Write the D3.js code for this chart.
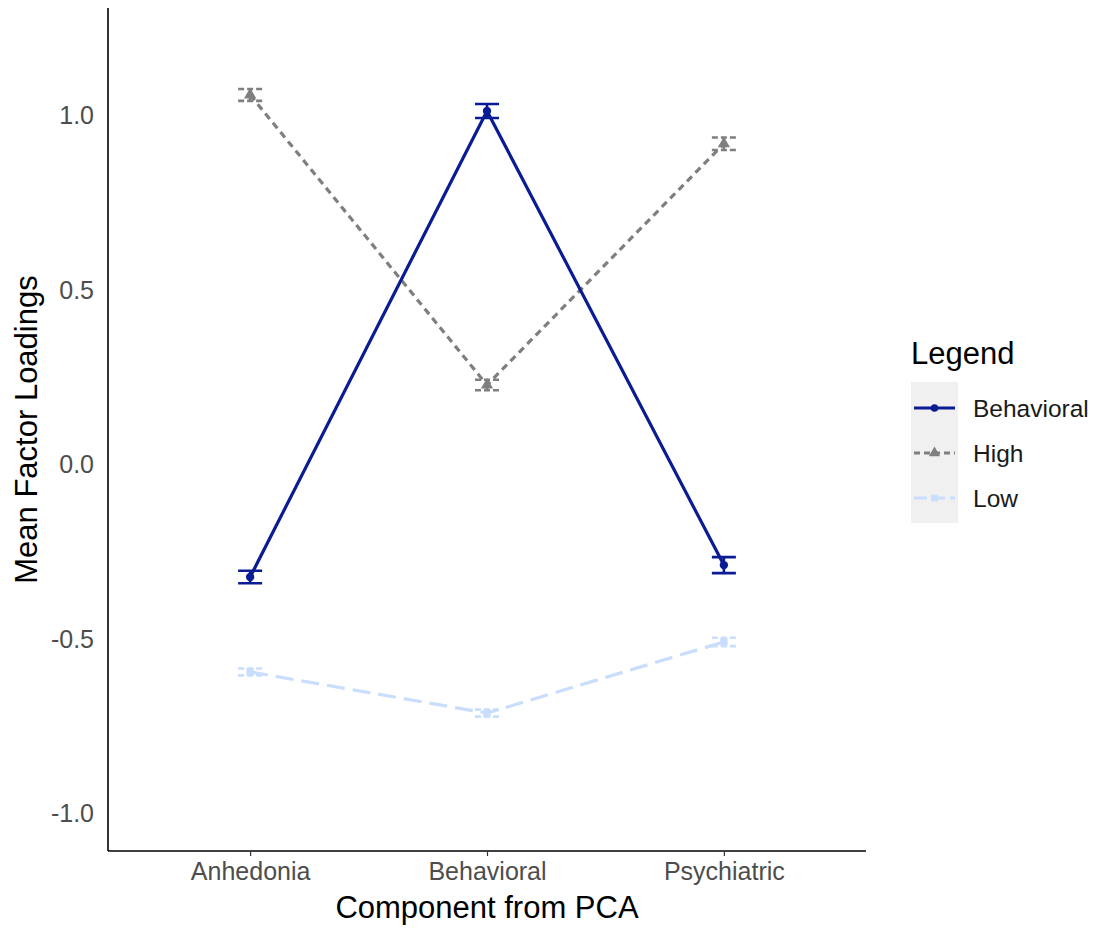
<!DOCTYPE html>
<html>
<head>
<meta charset="utf-8">
<script src="https://cdn.jsdelivr.net/npm/d3@7"></script>
<style>
  body { margin: 0; background: #fff; }
  text { font-family: "Liberation Sans", Arial, sans-serif; }
</style>
</head>
<body>
<svg id="chart" width="1100" height="930"></svg>
<script>
var components = ["Anhedonia", "Behavioral", "Psychiatric"];
var groups = ["Behavioral", "High", "Low"];
var behavioralMean = [-0.321, 1.014, -0.287];
var behavioralErr = [0.018, 0.02, 0.023];
var highMean = [1.06, 0.229, 0.92];
var highErr = [0.017, 0.015, 0.018];
var lowMean = [-0.593, -0.711, -0.507];
var lowErr = [0.01, 0.01, 0.012];
var yTicks = [-1.0, -0.5, 0.0, 0.5, 1.0];

var series = [
  { name: "Behavioral", mean: behavioralMean, err: behavioralErr, color: "#0a1c94", dash: null, shape: d3.symbolCircle },
  { name: "High", mean: highMean, err: highErr, color: "#7f7f7f", dash: "7,5", shape: d3.symbolTriangle },
  { name: "Low", mean: lowMean, err: lowErr, color: "#c9ddfc", dash: "18,8", shape: d3.symbolSquare }
];

var svg = d3.select("#chart"),
    panelLeft = 108, panelRight = 866, panelTop = 8, panelBottom = 851;

var xScale = d3.scalePoint().domain(components).range([panelLeft, panelRight]).padding(0.6);
var yScale = d3.scaleLinear().domain([-1.106, 1.309]).range([panelBottom, panelTop]);

// axes
var xAxis = svg.append("g")
    .attr("transform", "translate(0," + panelBottom + ")")
    .call(d3.axisBottom(xScale).tickSize(5).tickPadding(6));
xAxis.select(".domain").attr("stroke", "#000").attr("stroke-width", 1.6)
    .attr("d", "M" + panelLeft + ",0H" + panelRight);
xAxis.selectAll(".tick line").attr("stroke", "#333").attr("stroke-width", 1.2);
xAxis.selectAll(".tick text").attr("fill", "#4d4d4d").style("font-size", "25px");

var yAxis = svg.append("g")
    .attr("transform", "translate(" + panelLeft + ",0)")
    .call(d3.axisLeft(yScale).tickValues(yTicks)
      .tickFormat(function(d) { return d3.format(".1f")(d).replace("\u2212", "-"); })
      .tickSize(0).tickPadding(14));
yAxis.select(".domain").attr("stroke", "#000").attr("stroke-width", 1.6)
    .attr("d", "M0," + panelTop + "V" + panelBottom);
yAxis.selectAll(".tick text").attr("fill", "#4d4d4d").style("font-size", "25px");

svg.append("text")
    .attr("x", (panelLeft + panelRight) / 2).attr("y", 918)
    .attr("text-anchor", "middle").style("font-size", "31px").attr("fill", "#000")
    .text("Component from PCA");
svg.append("text")
    .attr("transform", "translate(37," + (panelTop + panelBottom) / 2 + ") rotate(-90)")
    .attr("text-anchor", "middle").style("font-size", "31px").attr("fill", "#000")
    .text("Mean Factor Loadings");

var line = d3.line()
    .x(function(d, i) { return xScale(components[i]); })
    .y(function(d) { return yScale(d); });

// draw Low first, then High, then Behavioral
[series[2], series[1], series[0]].forEach(function(s) {
  var g = svg.append("g");
  g.append("path")
      .datum(s.mean)
      .attr("d", line)
      .attr("fill", "none")
      .attr("stroke", s.color)
      .attr("stroke-width", 3.2)
      .attr("stroke-dasharray", s.dash);

  var bars = g.selectAll(".err").data(components).enter().append("g");
  bars.append("path")
      .attr("d", function(c, i) {
        var x = xScale(c), y1 = yScale(s.mean[i] - s.err[i]), y2 = yScale(s.mean[i] + s.err[i]), w = 12;
        return "M" + (x - w) + "," + y1 + "H" + (x + w) +
               "M" + (x - w) + "," + y2 + "H" + (x + w) +
               "M" + x + "," + y1 + "V" + y2;
      })
      .attr("fill", "none")
      .attr("stroke", s.color)
      .attr("stroke-width", 2.6)
      .attr("stroke-dasharray", s.dash ? "6,3" : null);

  g.selectAll(".pt").data(components).enter().append("path")
      .attr("transform", function(c, i) { return "translate(" + xScale(c) + "," + yScale(s.mean[i]) + ")"; })
      .attr("d", d3.symbol().type(s.shape).size(s.shape === d3.symbolTriangle ? 65 : 55))
      .attr("fill", s.color);
});

// legend
var lg = svg.append("g");
lg.append("text").attr("x", 911).attr("y", 364).style("font-size", "31px").attr("fill", "#000").text("Legend");
lg.append("rect").attr("x", 911).attr("y", 382).attr("width", 47).attr("height", 141).attr("fill", "#f0f0f0");
var keyY = d3.scalePoint().domain(groups).range([408, 498]);
series.forEach(function(s) {
  var y = keyY(s.name);
  lg.append("line").attr("x1", 914).attr("x2", 955).attr("y1", y).attr("y2", y)
      .attr("stroke", s.color).attr("stroke-width", 3).attr("stroke-dasharray", s.dash ? (s.name === "High" ? "6,4" : "13,5") : null);
  lg.append("path").attr("transform", "translate(934.5," + y + ")")
      .attr("d", d3.symbol().type(s.shape).size(s.shape === d3.symbolTriangle ? 55 : 45))
      .attr("fill", s.color);
  lg.append("text").attr("x", 973).attr("y", y + 8.5).style("font-size", "24.5px").attr("fill", "#1a1a1a").text(s.name);
});
</script>
</body>
</html>
